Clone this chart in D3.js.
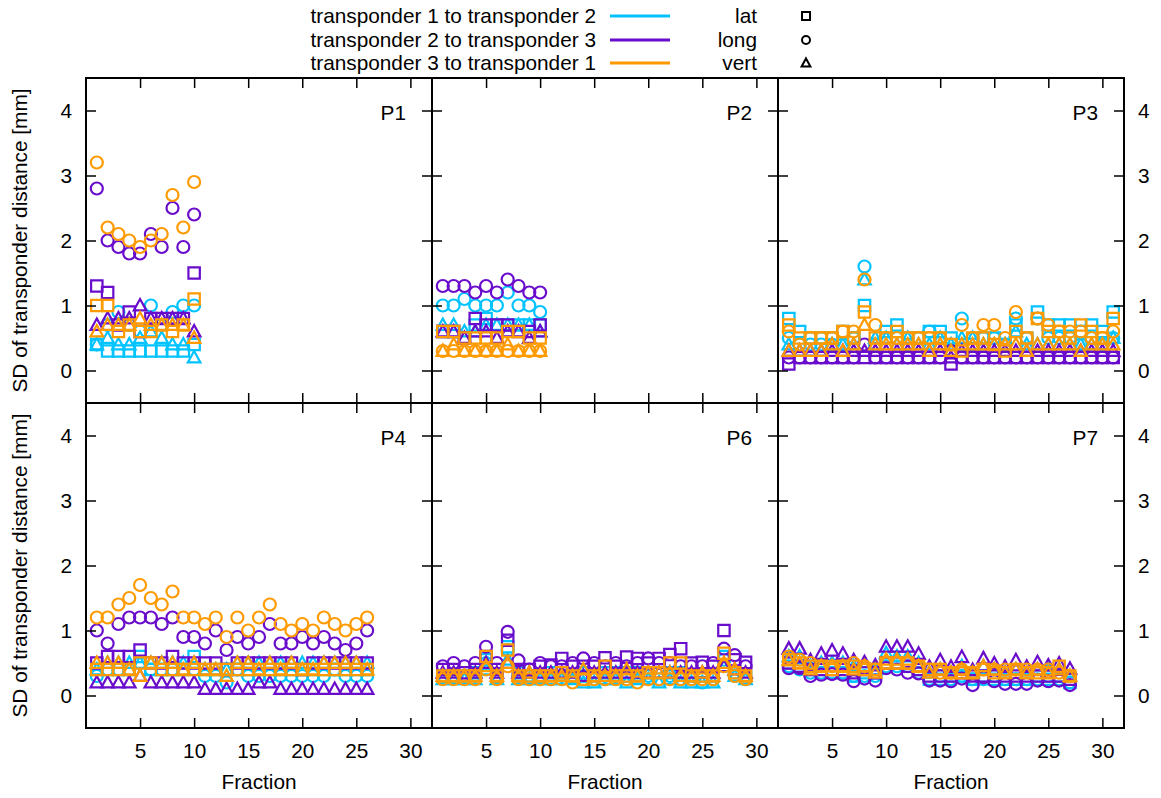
<!DOCTYPE html>
<html>
<head>
<meta charset="utf-8">
<script src="https://cdn.jsdelivr.net/npm/d3@7"></script>
<style>
body { margin: 0; background: #fff; }
text { font-family: "Liberation Sans", Arial, sans-serif; fill: #000; }
</style>
</head>
<body>
<script>
// categories / labels
var panelNames = ['P1', 'P2', 'P3', 'P4', 'P6', 'P7'];
var seriesNames = ['transponder 1 to transponder 2', 'transponder 2 to transponder 3', 'transponder 3 to transponder 1'];
var componentNames = ['lat', 'long', 'vert'];
var xTicks = [5, 10, 15, 20, 25, 30];
var yTicks = [0, 1, 2, 3, 4];

// P1
var p1_12_lat  = [0.4,0.3,0.3,0.3,0.3,0.3,0.3,0.3,0.3,0.4];
var p1_12_long = [0.4,0.7,0.9,0.7,0.6,1.0,0.7,0.9,1.0,1.0];
var p1_12_vert = [0.4,0.5,0.4,0.4,0.5,0.6,0.5,0.4,0.4,0.2];
var p1_23_lat  = [1.3,1.2,0.7,0.9,0.6,0.8,0.8,0.8,0.8,1.5];
var p1_23_long = [2.8,2.0,1.9,1.8,1.8,2.1,1.9,2.5,1.9,2.4];
var p1_23_vert = [0.7,0.8,0.8,0.8,1.0,0.8,0.8,0.8,0.8,0.6];
var p1_31_lat  = [1.0,1.0,0.6,0.7,0.6,0.6,0.7,0.6,0.7,1.1];
var p1_31_long = [3.2,2.2,2.1,2.0,1.9,2.0,2.1,2.7,2.2,2.9];
var p1_31_vert = [0.6,0.7,0.7,0.7,0.8,0.7,0.7,0.7,0.7,0.5];
// P2
var p2_12_lat  = [0.6,0.6,0.5,0.7,0.8,0.7,0.7,0.7,0.7,0.7];
var p2_12_long = [1.0,1.0,1.1,1.0,1.0,1.0,1.2,1.0,1.0,0.9];
var p2_12_vert = [0.7,0.7,0.6,0.6,0.7,0.7,0.7,0.7,0.7,0.6];
var p2_23_lat  = [0.6,0.6,0.5,0.8,0.7,0.7,0.7,0.6,0.6,0.7];
var p2_23_long = [1.3,1.3,1.3,1.2,1.3,1.2,1.4,1.3,1.2,1.2];
var p2_23_vert = [0.6,0.6,0.5,0.6,0.6,0.5,0.6,0.6,0.5,0.6];
var p2_31_lat  = [0.6,0.6,0.5,0.5,0.5,0.5,0.6,0.6,0.5,0.5];
var p2_31_long = [0.3,0.3,0.3,0.3,0.3,0.3,0.3,0.3,0.3,0.3];
var p2_31_vert = [0.3,0.4,0.3,0.3,0.3,0.3,0.4,0.3,0.3,0.3];
// P3
var p3_12_lat  = [0.8,0.6,0.5,0.5,0.5,0.6,0.5,1.0,0.4,0.6,0.7,0.5,0.5,0.6,0.6,0.5,0.4,0.4,0.5,0.5,0.4,0.7,0.5,0.9,0.7,0.7,0.7,0.6,0.7,0.6,0.9];
var p3_12_long = [0.5,0.4,0.4,0.4,0.4,0.4,0.5,1.6,0.4,0.5,0.5,0.4,0.5,0.6,0.5,0.3,0.8,0.5,0.5,0.5,0.4,0.8,0.5,0.8,0.5,0.5,0.5,0.4,0.5,0.4,0.5];
var p3_12_vert = [0.4,0.3,0.3,0.3,0.4,0.4,0.4,1.4,0.5,0.5,0.4,0.5,0.4,0.4,0.5,0.4,0.5,0.5,0.4,0.4,0.4,0.6,0.4,0.4,0.4,0.4,0.4,0.4,0.4,0.4,0.5];
var p3_23_lat  = [0.1,0.2,0.2,0.2,0.2,0.2,0.2,0.2,0.2,0.2,0.2,0.2,0.2,0.2,0.2,0.1,0.2,0.2,0.2,0.2,0.2,0.2,0.2,0.2,0.2,0.2,0.2,0.2,0.2,0.2,0.2];
var p3_23_long = [0.2,0.2,0.2,0.2,0.2,0.2,0.2,0.4,0.2,0.2,0.2,0.2,0.2,0.2,0.2,0.3,0.2,0.2,0.2,0.2,0.2,0.2,0.2,0.2,0.2,0.2,0.2,0.2,0.2,0.2,0.2];
var p3_23_vert = [0.3,0.3,0.3,0.3,0.3,0.3,0.3,0.3,0.3,0.3,0.3,0.3,0.3,0.3,0.3,0.2,0.3,0.3,0.3,0.3,0.3,0.3,0.3,0.3,0.3,0.3,0.3,0.3,0.3,0.3,0.3];
var p3_31_lat  = [0.7,0.5,0.5,0.5,0.5,0.6,0.5,0.9,0.5,0.5,0.6,0.5,0.5,0.5,0.5,0.4,0.3,0.5,0.5,0.4,0.3,0.6,0.5,0.8,0.6,0.6,0.5,0.7,0.6,0.5,0.8];
var p3_31_long = [0.6,0.4,0.5,0.5,0.5,0.6,0.6,1.4,0.7,0.5,0.5,0.5,0.5,0.5,0.5,0.4,0.7,0.5,0.7,0.7,0.5,0.9,0.5,0.8,0.7,0.6,0.6,0.6,0.5,0.5,0.6];
var p3_31_vert = [0.3,0.3,0.3,0.3,0.4,0.3,0.4,0.7,0.4,0.4,0.4,0.4,0.4,0.3,0.4,0.3,0.4,0.4,0.4,0.4,0.4,0.4,0.3,0.4,0.4,0.4,0.4,0.3,0.4,0.4,0.4];
// P4
var p4_12_lat  = [0.4,0.4,0.4,0.4,0.6,0.4,0.4,0.4,0.4,0.6,0.4,0.4,0.4,0.4,0.4,0.4,0.4,0.4,0.4,0.4,0.4,0.4,0.4,0.4,0.4,0.4];
var p4_12_long = [0.3,0.4,0.4,0.4,0.5,0.4,0.4,0.4,0.4,0.4,0.3,0.3,0.2,0.4,0.3,0.3,0.3,0.3,0.3,0.3,0.3,0.3,0.4,0.3,0.3,0.3];
var p4_12_vert = [0.4,0.5,0.5,0.5,0.5,0.5,0.5,0.5,0.5,0.5,0.4,0.4,0.4,0.5,0.5,0.5,0.5,0.5,0.5,0.5,0.5,0.5,0.5,0.5,0.5,0.5];
var p4_23_lat  = [0.5,0.6,0.6,0.6,0.7,0.5,0.5,0.6,0.5,0.5,0.5,0.5,0.4,0.5,0.5,0.5,0.5,0.5,0.5,0.4,0.5,0.5,0.5,0.5,0.5,0.5];
var p4_23_long = [1.0,0.8,1.1,1.2,1.2,1.2,1.1,1.2,0.9,0.9,0.8,1.0,0.7,0.9,0.8,0.9,1.1,0.8,0.8,0.9,0.8,0.9,0.8,0.7,0.8,1.0];
var p4_23_vert = [0.2,0.2,0.2,0.2,0.3,0.2,0.2,0.2,0.2,0.2,0.1,0.1,0.1,0.1,0.1,0.2,0.2,0.1,0.1,0.1,0.1,0.1,0.1,0.1,0.1,0.1];
var p4_31_lat  = [0.4,0.4,0.4,0.4,0.5,0.5,0.4,0.4,0.4,0.4,0.4,0.4,0.4,0.4,0.4,0.4,0.4,0.4,0.4,0.4,0.4,0.4,0.4,0.4,0.4,0.4];
var p4_31_long = [1.2,1.2,1.4,1.5,1.7,1.5,1.4,1.6,1.2,1.2,1.1,1.2,0.9,1.2,1.0,1.2,1.4,1.1,1.0,1.1,1.0,1.2,1.1,1.0,1.1,1.2];
var p4_31_vert = [0.5,0.5,0.5,0.4,0.3,0.5,0.5,0.5,0.4,0.5,0.4,0.4,0.3,0.5,0.5,0.4,0.5,0.4,0.5,0.4,0.4,0.5,0.5,0.5,0.5,0.4];
// P6
var p6_12_lat  = [0.3,0.3,0.3,0.35,0.55,0.3,0.75,0.35,0.3,0.3,0.35,0.35,0.3,0.35,0.3,0.35,0.35,0.35,0.35,0.35,0.35,0.35,0.35,0.3,0.3,0.3,0.6,0.35,0.3];
var p6_12_long = [0.3,0.3,0.3,0.3,0.5,0.3,0.7,0.3,0.3,0.3,0.25,0.3,0.3,0.3,0.25,0.3,0.3,0.3,0.3,0.3,0.25,0.3,0.25,0.25,0.2,0.25,0.55,0.3,0.25];
var p6_12_vert = [0.25,0.25,0.25,0.25,0.4,0.25,0.55,0.25,0.25,0.25,0.25,0.25,0.25,0.2,0.2,0.25,0.25,0.2,0.25,0.25,0.2,0.25,0.2,0.2,0.2,0.2,0.45,0.3,0.25];
var p6_23_lat  = [0.4,0.4,0.35,0.4,0.6,0.4,0.85,0.4,0.4,0.45,0.47,0.57,0.45,0.45,0.45,0.58,0.45,0.59,0.57,0.5,0.57,0.63,0.72,0.5,0.51,0.45,1.0,0.55,0.51];
var p6_23_long = [0.45,0.5,0.45,0.5,0.75,0.5,0.98,0.54,0.4,0.5,0.45,0.45,0.5,0.57,0.5,0.45,0.5,0.45,0.5,0.57,0.5,0.5,0.45,0.45,0.45,0.5,0.72,0.62,0.45];
var p6_23_vert = [0.35,0.35,0.3,0.35,0.5,0.35,0.5,0.35,0.35,0.35,0.35,0.35,0.35,0.3,0.35,0.35,0.35,0.35,0.35,0.35,0.35,0.35,0.35,0.35,0.35,0.35,0.45,0.4,0.35];
var p6_31_lat  = [0.3,0.3,0.3,0.3,0.6,0.3,0.7,0.3,0.3,0.3,0.3,0.35,0.3,0.25,0.3,0.45,0.3,0.3,0.3,0.35,0.35,0.5,0.5,0.3,0.3,0.3,0.65,0.35,0.3];
var p6_31_long = [0.25,0.25,0.25,0.25,0.4,0.25,0.45,0.25,0.25,0.25,0.25,0.25,0.2,0.25,0.25,0.25,0.25,0.25,0.2,0.25,0.25,0.25,0.25,0.25,0.25,0.25,0.45,0.3,0.25];
var p6_31_vert = [0.3,0.3,0.3,0.3,0.45,0.3,0.5,0.3,0.35,0.3,0.3,0.3,0.3,0.4,0.3,0.3,0.3,0.4,0.3,0.35,0.35,0.35,0.3,0.3,0.35,0.3,0.5,0.4,0.3];
// P7
var p7_12_lat  = [0.5,0.45,0.4,0.4,0.35,0.35,0.3,0.35,0.35,0.5,0.5,0.5,0.4,0.25,0.25,0.3,0.3,0.25,0.3,0.25,0.25,0.25,0.25,0.3,0.25,0.3,0.2];
var p7_12_long = [0.45,0.4,0.35,0.35,0.35,0.35,0.3,0.3,0.3,0.45,0.45,0.45,0.35,0.25,0.3,0.25,0.3,0.25,0.25,0.3,0.25,0.25,0.25,0.25,0.3,0.25,0.2];
var p7_12_vert = [0.6,0.6,0.45,0.5,0.5,0.5,0.45,0.45,0.4,0.65,0.6,0.6,0.5,0.35,0.4,0.35,0.45,0.35,0.45,0.4,0.35,0.4,0.35,0.4,0.4,0.4,0.3];
var p7_23_lat  = [0.5,0.45,0.4,0.4,0.4,0.4,0.35,0.4,0.35,0.5,0.5,0.45,0.4,0.3,0.3,0.3,0.35,0.3,0.3,0.3,0.3,0.3,0.3,0.3,0.3,0.3,0.25];
var p7_23_long = [0.42,0.42,0.3,0.32,0.33,0.32,0.22,0.26,0.23,0.42,0.4,0.35,0.34,0.23,0.23,0.22,0.26,0.16,0.28,0.22,0.18,0.18,0.18,0.23,0.22,0.23,0.16];
var p7_23_vert = [0.72,0.72,0.54,0.64,0.69,0.64,0.54,0.51,0.46,0.75,0.75,0.75,0.64,0.44,0.54,0.44,0.59,0.39,0.57,0.49,0.44,0.54,0.44,0.51,0.46,0.49,0.41];
var p7_31_lat  = [0.55,0.5,0.45,0.45,0.4,0.45,0.45,0.4,0.4,0.5,0.5,0.5,0.45,0.4,0.4,0.35,0.35,0.35,0.4,0.35,0.35,0.4,0.35,0.35,0.35,0.45,0.3];
var p7_31_long = [0.6,0.55,0.5,0.45,0.45,0.45,0.5,0.45,0.4,0.5,0.5,0.5,0.45,0.4,0.35,0.35,0.4,0.35,0.4,0.4,0.4,0.4,0.4,0.4,0.4,0.35,0.3];
var p7_31_vert = [0.55,0.5,0.4,0.45,0.45,0.45,0.4,0.45,0.35,0.55,0.55,0.55,0.45,0.35,0.4,0.35,0.4,0.35,0.45,0.4,0.35,0.4,0.35,0.4,0.35,0.4,0.3];

var panelSeries = {
	P1: [[p1_12_lat, p1_12_long, p1_12_vert], [p1_23_lat, p1_23_long, p1_23_vert], [p1_31_lat, p1_31_long, p1_31_vert]],
	P2: [[p2_12_lat, p2_12_long, p2_12_vert], [p2_23_lat, p2_23_long, p2_23_vert], [p2_31_lat, p2_31_long, p2_31_vert]],
	P3: [[p3_12_lat, p3_12_long, p3_12_vert], [p3_23_lat, p3_23_long, p3_23_vert], [p3_31_lat, p3_31_long, p3_31_vert]],
	P4: [[p4_12_lat, p4_12_long, p4_12_vert], [p4_23_lat, p4_23_long, p4_23_vert], [p4_31_lat, p4_31_long, p4_31_vert]],
	P6: [[p6_12_lat, p6_12_long, p6_12_vert], [p6_23_lat, p6_23_long, p6_23_vert], [p6_31_lat, p6_31_long, p6_31_vert]],
	P7: [[p7_12_lat, p7_12_long, p7_12_vert], [p7_23_lat, p7_23_long, p7_23_vert], [p7_31_lat, p7_31_long, p7_31_vert]]
};

var cfg = {
	width: 1161,
	height: 798,
	left: 86,
	panelW: 346,
	top: 78,
	panelH: 325,
	fontSize: 20.8,
	colors: ['#00c3ff', '#6a0ccc', '#ff9a00']
};

var svg = d3.select('body')
	.append('svg')
	.attr('width', cfg.width)
	.attr('height', cfg.height);

// marker shapes: 0 square, 1 circle, 2 triangle
function markerPath(kind, s) {
	if (kind === 0) return 'M' + (-s) + ',' + (-s) + 'H' + s + 'V' + s + 'H' + (-s) + 'Z';
	if (kind === 1) return 'M' + s + ',0A' + s + ',' + s + ' 0 1,1 ' + (-s) + ',0A' + s + ',' + s + ' 0 1,1 ' + s + ',0Z';
	var h = s * 1.15;
	return 'M0,' + (-h) + 'L' + (s * 1.1) + ',' + (h * 0.75) + 'L' + (-s * 1.1) + ',' + (h * 0.75) + 'Z';
}

panelNames.forEach(function (name, pi) {
	var col = pi % 3, row = Math.floor(pi / 3);
	var x0 = cfg.left + col * cfg.panelW;
	var y0 = cfg.top + row * cfg.panelH;

	var xScale = d3.scaleLinear().domain([0, 32]).range([x0, x0 + cfg.panelW]);
	var yScale = d3.scaleLinear().domain([-0.5, 4.5]).range([y0 + cfg.panelH, y0]);

	var g = svg.append('g');

	// markers
	panelSeries[name].forEach(function (comps, si) {
		comps.forEach(function (vals, ci) {
			g.selectAll('.m' + si + ci)
				.data(vals)
				.enter()
				.append('path')
				.attr('d', markerPath(ci, ci === 1 ? 6 : 5.7))
				.attr('transform', function (d, i) {
					return 'translate(' + xScale(i + 1) + ',' + yScale(d) + ')';
				})
				.attr('fill', 'none')
				.attr('stroke', cfg.colors[si])
				.attr('stroke-width', 2.2);
		});
	});

	// axes, ticks inward on all sides
	var fmt = d3.format('d');
	var bottomAx = d3.axisBottom(xScale).tickValues(xTicks).tickSize(-10).tickSizeOuter(0).tickPadding(15).tickFormat(fmt);
	if (row === 0) bottomAx.tickFormat('');
	var topAx = d3.axisTop(xScale).tickValues(xTicks).tickSize(-10).tickSizeOuter(0).tickFormat('');
	var leftAx = d3.axisLeft(yScale).tickValues(yTicks).tickSize(-10).tickSizeOuter(0).tickPadding(14).tickFormat(fmt);
	if (col !== 0) leftAx.tickFormat('');
	var rightAx = d3.axisRight(yScale).tickValues(yTicks).tickSize(-10).tickSizeOuter(0).tickPadding(14).tickFormat(fmt);
	if (col !== 2) rightAx.tickFormat('');

	[[bottomAx, 'translate(0,' + (y0 + cfg.panelH) + ')'],
	 [topAx, 'translate(0,' + y0 + ')'],
	 [leftAx, 'translate(' + x0 + ',0)'],
	 [rightAx, 'translate(' + (x0 + cfg.panelW) + ',0)']].forEach(function (a) {
		var ax = svg.append('g').attr('transform', a[1]).call(a[0]);
		ax.select('.domain').remove();
		ax.selectAll('line').attr('stroke', '#000').attr('stroke-width', 1.5);
		ax.selectAll('text')
			.style('font-family', '"Liberation Sans", Arial, sans-serif')
			.style('font-size', cfg.fontSize + 'px')
			.attr('fill', '#000');
	});

	// frame
	svg.append('rect')
		.attr('x', x0).attr('y', y0)
		.attr('width', cfg.panelW).attr('height', cfg.panelH)
		.attr('fill', 'none').attr('stroke', '#000').attr('stroke-width', 2);

	// panel label
	svg.append('text')
		.attr('x', x0 + cfg.panelW - 26)
		.attr('y', y0 + 42)
		.attr('text-anchor', 'end')
		.style('font-size', cfg.fontSize + 'px')
		.text(name);

	if (row === 1) {
		svg.append('text')
			.attr('x', x0 + cfg.panelW / 2)
			.attr('y', 789)
			.attr('text-anchor', 'middle')
			.style('font-size', cfg.fontSize + 'px')
			.text('Fraction');
	}
	if (col === 0) {
		svg.append('text')
			.attr('transform', 'translate(27,' + (y0 + cfg.panelH / 2) + ') rotate(-90)')
			.attr('text-anchor', 'middle')
			.style('font-size', cfg.fontSize + 'px')
			.text('SD of transponder distance [mm]');
	}
});

// legend
var legRows = [16, 40, 63];
seriesNames.forEach(function (s, i) {
	svg.append('text')
		.attr('x', 596).attr('y', legRows[i])
		.attr('dy', '0.35em')
		.attr('text-anchor', 'end')
		.style('font-size', cfg.fontSize + 'px')
		.text(s);
	svg.append('line')
		.attr('x1', 610).attr('x2', 670)
		.attr('y1', legRows[i]).attr('y2', legRows[i])
		.attr('stroke', cfg.colors[i]).attr('stroke-width', 3);
});
componentNames.forEach(function (c, i) {
	svg.append('text')
		.attr('x', 757).attr('y', legRows[i])
		.attr('dy', '0.35em')
		.attr('text-anchor', 'end')
		.style('font-size', cfg.fontSize + 'px')
		.text(c);
	svg.append('path')
		.attr('d', markerPath(i, 4))
		.attr('transform', 'translate(806,' + legRows[i] + ')')
		.attr('fill', 'none')
		.attr('stroke', '#000')
		.attr('stroke-width', 2);
});
</script>
</body>
</html>
